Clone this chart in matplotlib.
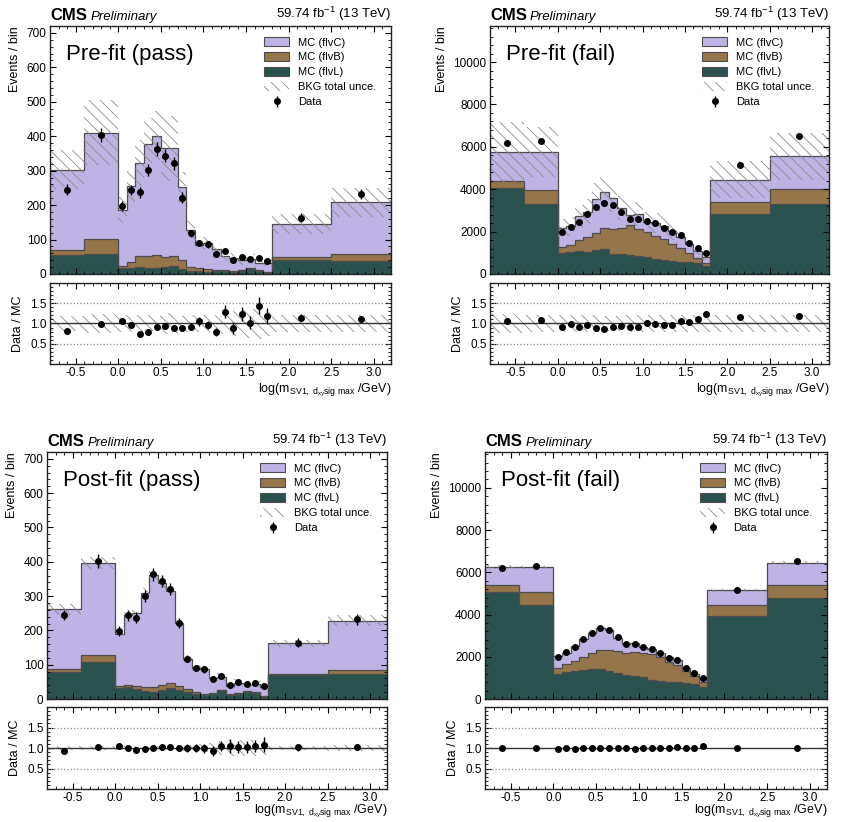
import numpy as np
import matplotlib
matplotlib.use('Agg')
import matplotlib.pyplot as plt
from matplotlib.patches import Patch
from matplotlib.ticker import MultipleLocator, AutoMinorLocator

plt.rcParams['font.family'] = ['Liberation Sans', 'DejaVu Sans']
plt.rcParams['mathtext.fontset'] = 'custom'
plt.rcParams['mathtext.rm'] = 'Liberation Sans'
plt.rcParams['mathtext.it'] = 'Liberation Sans:italic'
plt.rcParams['mathtext.bf'] = 'Liberation Sans:bold'
plt.rcParams['axes.unicode_minus'] = False
plt.rcParams['hatch.linewidth'] = 0.6

# ---------------- data ----------------
edges = [-0.8, -0.4, 0.0, 0.1, 0.2, 0.3, 0.4, 0.5, 0.6, 0.7, 0.8, 0.9,
         1.0, 1.1, 1.2, 1.3, 1.4, 1.5, 1.6, 1.7, 1.8, 2.5, 3.2]

data_pass = [245, 403, 198, 244, 237, 301, 363, 344, 321, 222, 118, 90,
             86, 58, 66, 41, 49, 44, 46, 39, 164, 232]
data_fail = [6192, 6286, 1975, 2215, 2465, 2850, 3140, 3340, 3255, 2935, 2590, 2585,
             2480, 2390, 2170, 1960, 1860, 1480, 1210, 1000, 5160, 6515]

# pre-fit pass
pre_pass_L = [54, 59, 16, 18, 20, 17, 16, 19, 23, 14, 8, 8, 6, 9, 9, 6, 11, 14, 9, 3, 40, 37]
pre_pass_B = [17, 43, 8, 17, 32, 36, 38, 31, 29, 26, 12, 9, 8, 4, 2, 3, 2, 2, 2, 2, 8, 20]
pre_pass_C = [232, 308, 162, 221, 270, 324, 348, 316, 313, 212, 108, 68, 76, 61, 40, 37, 27, 27, 21, 28, 96, 151]
pre_pass_unc = [0.19, 0.23, 0.2, 0.2, 0.21, 0.2, 0.18, 0.26, 0.26, 0.18, 0.2, 0.2,
                0.2, 0.2, 0.25, 0.3, 0.35, 0.35, 0.38, 0.3, 0.2, 0.2]

# pre-fit fail
pre_fail_L = [4064, 3323, 1008, 1040, 1100, 1055, 1118, 1165, 960, 930, 913, 835,
              800, 725, 677, 600, 567, 583, 535, 378, 2850, 3323]
pre_fail_B = [330, 662, 252, 340, 520, 695, 802, 1015, 1180, 1230, 1377, 1295,
              1180, 1085, 993, 820, 673, 397, 225, 122, 536, 693]
pre_fail_C = [1371, 1780, 898, 875, 1110, 1190, 1641, 1703, 1442, 957, 510, 700,
              460, 592, 602, 593, 497, 445, 337, 313, 1071, 1528]
pre_fail_unc = [0.245, 0.205, 0.2, 0.2, 0.2, 0.2, 0.2, 0.18, 0.18, 0.18, 0.2, 0.2,
                0.2, 0.2, 0.2, 0.2, 0.2, 0.2, 0.2, 0.2, 0.2, 0.2]

# post-fit pass
post_pass_L = [79, 108, 32, 36, 30, 24, 19, 27, 33, 27, 21, 15, 12, 14, 25, 12, 15, 20, 17, 6, 69, 73]
post_pass_B = [7, 19, 5, 6, 9, 12, 17, 13, 14, 12, 8, 4, 4, 3, 2, 2, 2, 2, 2, 2, 4, 11]
post_pass_C = [176, 269, 153, 203, 211, 274, 325, 298, 268, 182, 89, 71, 71, 45, 36, 25, 31, 21, 25, 28, 89, 144]
post_pass_unc = [0.06, 0.045, 0.04, 0.04, 0.04, 0.04, 0.04, 0.04, 0.04, 0.04, 0.07, 0.1,
                 0.1, 0.12, 0.18, 0.2, 0.2, 0.2, 0.2, 0.18, 0.06, 0.07]

# post-fit fail
post_fail_L = [5072, 4471, 1205, 1280, 1310, 1390, 1405, 1437, 1310, 1230, 1120, 1073,
               1025, 915, 836, 820, 790, 773, 725, 590, 3934, 4787]
post_fail_B = [316, 601, 255, 385, 500, 615, 760, 898, 995, 1028, 1075, 1177,
               1155, 1200, 1154, 932, 836, 537, 370, 228, 522, 632]
post_fail_C = [872, 1168, 566, 528, 705, 817, 975, 1039, 950, 648, 421, 388,
               275, 251, 180, 228, 198, 170, 103, 134, 694, 1031]
post_fail_unc = [0.012] * 22

labels = ['MC (flvC)', 'MC (flvB)', 'MC (flvL)', 'BKG total unce.', 'Data']
titles = ['Pre-fit (pass)', 'Pre-fit (fail)', 'Post-fit (pass)', 'Post-fit (fail)']
xlabel = r'log(m$_{\mathrm{SV1,\ d_{xy}sig\ max}}$ /GeV)'

col_C = '#BFB2E4'
col_B = '#957549'
col_L = '#29514D'
col_edge = '#4d4d4d'
col_hatch = '#8c8c8c'
HATCH = '\\\\\\'

W, H = 846, 822
fig = plt.figure(figsize=(W / 100, H / 100), dpi=100)


def px_axes(l, r, t, b):
    return fig.add_axes([l / W, 1 - b / H, (r - l) / W, (b - t) / H])


def style(ax):
    ax.tick_params(which='both', direction='in', top=True, right=True, labelsize=8.5)
    ax.tick_params(which='major', length=4, width=0.8, pad=2.5)
    ax.tick_params(which='minor', length=2, width=0.6)
    for s in ax.spines.values():
        s.set_linewidth(1.0)
        s.set_color('#222222')


def panel(geom, L, B, C, data, unc, title, ymax, ymaj, xlpad):
    (l, r, t, b, rt, rb) = geom
    ax = px_axes(l, r, t, b)
    axr = px_axes(l, r, rt, rb)
    L = np.array(L, float); B = np.array(B, float); C = np.array(C, float)
    data = np.array(data, float); unc = np.array(unc, float)
    e = np.array(edges)
    c1 = L; c2 = L + B; c3 = L + B + C
    centers = 0.5 * (e[1:] + e[:-1])
    ax.stairs(c3, e, baseline=c2, fill=True, color=col_C, lw=0)
    ax.stairs(c2, e, baseline=c1, fill=True, color=col_B, lw=0)
    ax.stairs(c1, e, baseline=0, fill=True, color=col_L, lw=0)
    for cc in (c1, c2, c3):
        ax.stairs(cc, e, baseline=None, color=col_edge, lw=0.9)
    ax.stairs(c3 * (1 + unc), e, baseline=c3 * (1 - unc), fill=True,
              facecolor='none', edgecolor=col_hatch, hatch=HATCH, lw=0)
    err = np.sqrt(data)
    eb = ax.errorbar(centers, data, yerr=err, fmt='o', color='k', ms=4,
                     elinewidth=1, capsize=0)
    ax.set_xlim(-0.8, 3.2)
    ax.set_ylim(0, ymax)
    ax.yaxis.set_major_locator(MultipleLocator(ymaj))
    ax.yaxis.set_minor_locator(AutoMinorLocator(5))
    ax.xaxis.set_major_locator(MultipleLocator(0.5))
    ax.xaxis.set_minor_locator(MultipleLocator(0.1))
    style(ax)
    ax.tick_params(labelbottom=False)
    ax.set_ylabel('Events / bin', loc='top', fontsize=9)
    ax.text(0.0, 1.012, 'CMS', transform=ax.transAxes, fontsize=12,
            fontweight='bold', ha='left', va='bottom')
    ax.text(0.118, 1.012, 'Preliminary', transform=ax.transAxes, fontsize=9.5,
            fontstyle='italic', ha='left', va='bottom')
    ax.text(1.0, 1.012, r'59.74 fb$^{-1}$ (13 TeV)', transform=ax.transAxes,
            fontsize=9.5, ha='right', va='bottom')
    ax.text(0.046, 0.885, title, transform=ax.transAxes, fontsize=16,
            ha='left', va='center')
    handles = [Patch(facecolor=col_C, edgecolor=col_edge, lw=0.8),
               Patch(facecolor=col_B, edgecolor=col_edge, lw=0.8),
               Patch(facecolor=col_L, edgecolor=col_edge, lw=0.8),
               Patch(facecolor='none', edgecolor=col_hatch, hatch=HATCH, lw=0),
               eb]
    ax.legend(handles, labels, loc='upper right', frameon=False, fontsize=8,
              handlelength=2.2, handleheight=0.85, labelspacing=0.42,
              handletextpad=0.8, borderaxespad=0.5, bbox_to_anchor=(0.985, 0.995))

    tot = c3
    axr.stairs(1 + unc, e, baseline=1 - unc, fill=True, facecolor='none',
               edgecolor=col_hatch, hatch=HATCH, lw=0)
    axr.axhline(1.0, color='#333333', lw=1.0)
    axr.axhline(0.5, color='#888888', lw=0.9, ls=':')
    axr.axhline(1.5, color='#888888', lw=0.9, ls=':')
    axr.errorbar(centers, data / tot, yerr=err / tot, fmt='o', color='k', ms=4,
                 elinewidth=1, capsize=0)
    axr.set_xlim(-0.8, 3.2)
    axr.set_ylim(0, 2)
    axr.set_yticks([0.5, 1.0, 1.5])
    axr.yaxis.set_minor_locator(MultipleLocator(0.1))
    axr.xaxis.set_major_locator(MultipleLocator(0.5))
    axr.xaxis.set_minor_locator(MultipleLocator(0.1))
    style(axr)
    axr.set_ylabel('Data / MC', fontsize=9)
    axr.set_xlabel(xlabel, loc='right', fontsize=9, labelpad=xlpad)
    return ax, axr


geoms = [(50, 391, 26, 274, 283, 364),
         (490, 829, 26, 274, 283, 364),
         (47, 387, 452, 699, 707, 789),
         (485, 827, 452, 699, 707, 789)]

panel(geoms[0], pre_pass_L, pre_pass_B, pre_pass_C, data_pass, pre_pass_unc, titles[0], 720, 100, 2)
panel(geoms[1], pre_fail_L, pre_fail_B, pre_fail_C, data_fail, pre_fail_unc, titles[1], 11700, 2000, 2)
panel(geoms[2], post_pass_L, post_pass_B, post_pass_C, data_pass, post_pass_unc, titles[2], 720, 100, -1)
panel(geoms[3], post_fail_L, post_fail_B, post_fail_C, data_fail, post_fail_unc, titles[3], 11700, 2000, -1)

fig.savefig('out.png', dpi=100)
